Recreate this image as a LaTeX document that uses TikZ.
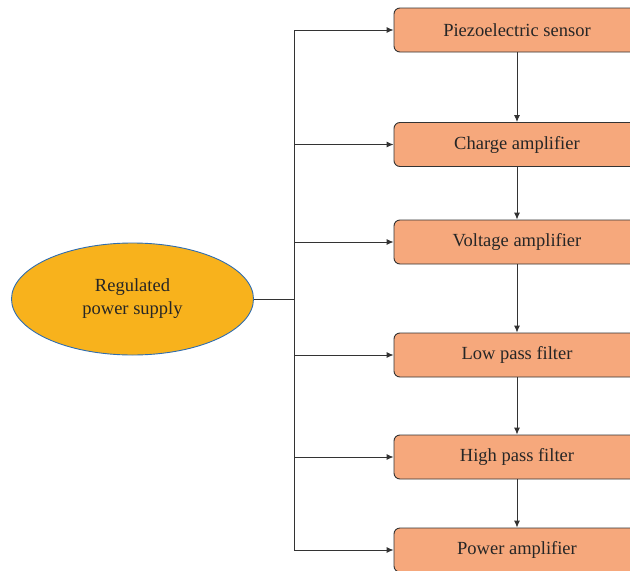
\documentclass[tikz,border=0pt]{standalone}
\usepackage{fontspec}
\setmainfont{Liberation Serif}
\usetikzlibrary{arrows.meta,shapes.geometric}
\definecolor{stagefill}{HTML}{F6A87C}
\definecolor{supplyfill}{HTML}{F8B21C}
\definecolor{supplyedge}{HTML}{2F6DB0}
\definecolor{wire}{HTML}{333333}
\tikzset{
  stagebox/.style={draw=wire, line width=0.9pt, fill=stagefill, rounded corners=6pt,
    minimum width=246pt, minimum height=44pt, inner sep=0pt,
    font=\fontsize{18.5}{21}\selectfont, text=black!85},
  supply/.style={ellipse, draw=supplyedge, line width=0.9pt, fill=supplyfill,
    minimum width=242pt, minimum height=112pt, inner sep=0pt, align=center,
    font=\fontsize{18.5}{23}\selectfont, text=black!85},
  link/.style={draw=wire, line width=0.9pt},
  feed/.style={link, -{Latex[length=7pt,width=6pt]}}
}
\begin{document}
\begin{tikzpicture}[x=1pt,y=-1pt]
  \useasboundingbox (0,0) rectangle (630,571);
  \clip (0,0) rectangle (630,571);
  % signal chain
  \node[stagebox] (s1) at (517,30)  {\raisebox{-1.5pt}{Piezoelectric sensor}};
  \node[stagebox] (s2) at (517,144.5) {\raisebox{-1.5pt}{Charge amplifier}};
  \node[stagebox] (s3) at (517,242) {\raisebox{-1.5pt}{Voltage amplifier}};
  \node[stagebox] (s4) at (517,355) {\raisebox{-1.5pt}{Low pass filter}};
  \node[stagebox] (s5) at (517,457) {\raisebox{-1.5pt}{High pass filter}};
  \node[stagebox] (s6) at (517,550) {\raisebox{-1.5pt}{Power amplifier}};
  \foreach \a/\b in {s1/s2,s2/s3,s3/s4,s4/s5,s5/s6}
    \draw[feed] (\a.south) -- (\b.north);
  % supply and distribution bus
  \node[supply] (ps) at (132.5,299) {Regulated\\power supply};
  \coordinate (bustop) at (294,30);
  \coordinate (busbot) at (294,550);
  \coordinate (tap) at (294,299);
  \draw[link] (bustop) -- (busbot);
  \draw[link] (ps.east) -- (tap);
  \foreach \s in {s1,s2,s3,s4,s5,s6}
    \draw[feed] (bustop |- \s.west) -- (\s.west);
\end{tikzpicture}
\end{document}
